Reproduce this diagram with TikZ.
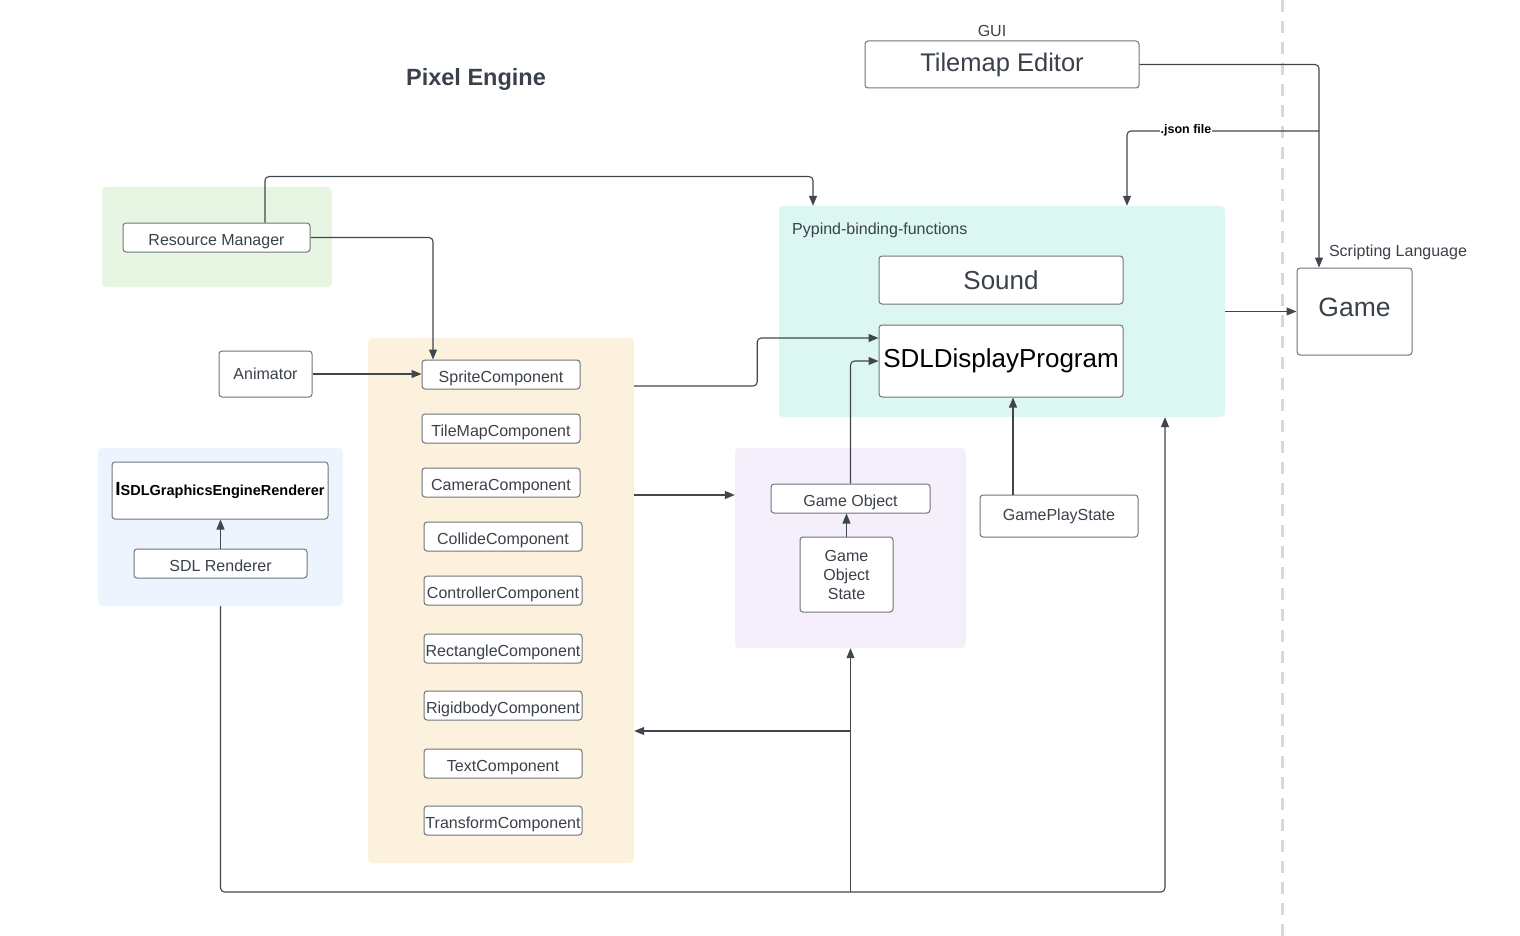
\documentclass[tikz,border=0pt]{standalone}
\usepackage{fontspec}
\setmainfont{Liberation Sans}
\usetikzlibrary{arrows.meta,calc}
\definecolor{txt}{HTML}{3A414A}
\definecolor{edgec}{HTML}{70757C}
\definecolor{connc}{HTML}{40464E}
\definecolor{greenbg}{HTML}{E6F6E3}
\definecolor{tealbg}{HTML}{DCF6F2}
\definecolor{orangebg}{HTML}{FCF1DC}
\definecolor{purplebg}{HTML}{F4EFFB}
\definecolor{bluebg}{HTML}{EDF4FD}
\definecolor{dashc}{HTML}{D8D8D8}
\newcommand{\fs}[1]{\fontsize{#1}{#1}\selectfont}
\tikzset{
  box/.style={draw=edgec, line width=1pt, rounded corners=3pt, fill=white,
    inner sep=0pt, text=txt, font=\fontsize{16}{19}\selectfont},
  low/.style={text height=15pt, text depth=0pt},
  region/.style={rounded corners=4pt, inner sep=0pt, draw=none},
  conn/.style={draw=connc, line width=1.1pt, rounded corners=4pt},
  arr/.style={conn, -{Triangle[length=10pt,width=8pt]}},
  lbl/.style={inner sep=0pt, text=txt},
  dashline/.style={draw=dashc, line width=3pt, dash pattern=on 12pt off 9pt},
}
\begin{document}
\begin{tikzpicture}[x=1pt,y=-1pt]
\useasboundingbox (0,0) rectangle (1520,936);

% dashed separator
\coordinate (d1) at (1282,0);
\coordinate (d2) at (1282,936);
\draw[dashline] (d1) -- (d2);

% regions
\node[region, fill=greenbg, minimum width=230, minimum height=100] (green) at (217,237) {};
\node[region, fill=tealbg, minimum width=446, minimum height=211] (teal) at (1002,311.5) {};
\node[region, fill=orangebg, minimum width=266, minimum height=525] (orange) at (501,600.5) {};
\node[region, fill=purplebg, minimum width=231, minimum height=200] (purple) at (850.5,548) {};
\node[region, fill=bluebg, minimum width=245, minimum height=158] (blue) at (220.5,527) {};

% labels
\node[lbl, font=\bfseries\fs{23.5}] (title) at (476,79) {Pixel Engine};
\node[lbl, font=\fs{16}] (gui) at (992,31) {GUI};
\node[lbl, font=\fs{16}] (script) at (1398,252) {Scripting Language};
\node[lbl, font=\fs{16}, anchor=west] (pypind) at (792,230) {Pypind-binding-functions};

% boxes
\node[box, font=\fs{25.5}, minimum width=274, minimum height=47] (tilemap) at (1002,64.5) {Tilemap Editor};
\node[box, font=\fs{26.5}, text height=19pt, text depth=9pt, minimum width=115, minimum height=87] (game) at (1354.5,311.5) {Game};
\node[box, font=\fs{26}, minimum width=244, minimum height=48] (sound) at (1001,280) {Sound};
\node[box, font=\fs{26}, text=black, text height=19pt, text depth=6.5pt, minimum width=244, minimum height=72] (sdl) at (1001,361) {SDLDisplayProgram};
\node[box, low, minimum width=187, minimum height=29] (rm) at (216.5,237.5) {Resource Manager};
\node[box, minimum width=93, minimum height=46] (anim) at (265.5,374) {Animator};

\node[box, low, minimum width=158, minimum height=29] (sprite) at (501,374.5) {SpriteComponent};
\node[box, low, minimum width=158, minimum height=29] (tilemapc) at (501,428.5) {TileMapComponent};
\node[box, low, minimum width=158, minimum height=29] (camera) at (501,482.5) {CameraComponent};
\node[box, low, minimum width=158, minimum height=29] (collide) at (503,536.5) {CollideComponent};
\node[box, low, minimum width=158, minimum height=29] (controller) at (503,590.5) {ControllerComponent};
\node[box, low, minimum width=158, minimum height=29] (rectangle) at (503,648.5) {RectangleComponent};
\node[box, low, minimum width=158, minimum height=29] (rigid) at (503,705.5) {RigidbodyComponent};
\node[box, low, minimum width=158, minimum height=29] (textc) at (503,763.5) {TextComponent};
\node[box, low, minimum width=158, minimum height=29] (transform) at (503,820.5) {TransformComponent};

\node[box, low, minimum width=159, minimum height=29] (gobj) at (850.5,498.5) {Game Object};
\node[box, align=center, minimum width=93, minimum height=75] (gos) at (846.5,574.5) {Game\\Object\\State};
\node[box, minimum width=158, minimum height=42] (gps) at (1059,516) {GamePlayState};

\node[box, text=black, font=\bfseries, minimum width=216, minimum height=57] (isdl) at (220,490.5)
  {{\fs{19}I}{\fs{14.5}SDLGraphicsEngineRenderer}};
\node[box, low, minimum width=173, minimum height=29] (sdlr) at (220.5,563.5) {SDL Renderer};

% connectors
\draw[arr] (tilemap.east) -| ($(game.north)+(-35.5,0)$);
\coordinate (jsrc) at (1319,131);
\draw[arr] (jsrc) -| ($(teal.north)+(125,0)$);
\node[lbl, fill=white, inner sep=1pt, text=black, font=\bfseries\fs{12.5}] (json) at (1186,130) {.json file};

\draw[arr] ($(rm.north)+(48.5,0)$) -- ++(0,-46) -| ($(teal.north)+(-189,0)$);
\draw[arr] (rm.east) -| ($(sprite.north)+(-68,0)$);
\draw[arr] (anim.east) -- (anim.east -| sprite.west);

\draw[arr] ($(orange.east)+(0,-214.5)$) -- ++(123,0) |- ($(sdl.west)+(0,-23)$);
\draw[arr] ($(orange.east)+(0,-105.5)$) -- ($(purple.west)+(0,-53)$);

\draw[arr] (gos.north) -- (gos.north |- gobj.south);
\draw[arr] (gobj.north) |- (sdl.west);
\draw[arr] ($(gps.north)+(-46,0)$) -- ($(sdl.south)+(12,0)$);
\draw[arr] (sdlr.north) -- (sdlr.north |- isdl.south);
\draw[arr] (teal.east) -- (game.west);

\coordinate (jbot) at (850.5,892);
\coordinate (jmid) at (850.5,731);
\draw[conn] (blue.south) |- (jbot);
\draw[arr] (jbot) -- (purple.south);
\draw[arr] (jmid) -- (jmid -| orange.east);
\draw[arr] (jbot) -| ($(teal.south)+(163,0)$);
\end{tikzpicture}
\end{document}
